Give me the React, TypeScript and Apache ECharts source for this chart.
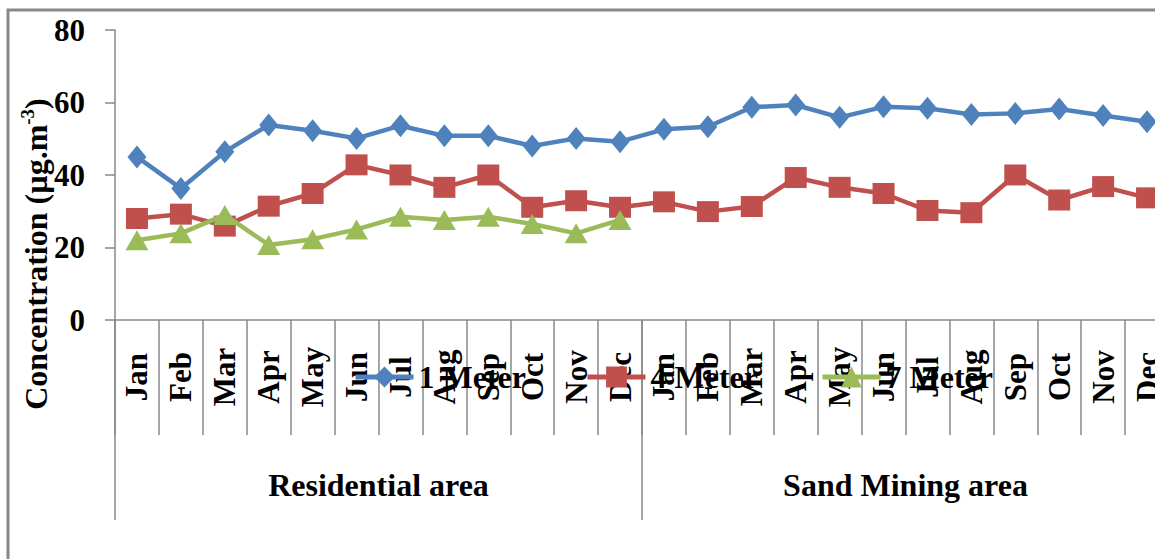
import React, { useEffect, useRef } from "react";
import * as echarts from "echarts";

const months = ["Jan", "Feb", "Mar", "Apr", "May", "Jun", "Jul", "Aug", "Sep", "Oct", "Nov", "Dec"];
const categories = [...months, ...months];
const groups = ["Residential area", "Sand Mining area"];
const yTicks = [0, 20, 40, 60, 80];

const meter1 = [45.0, 36.3, 46.4, 53.8, 52.2, 50.1, 53.6, 50.8, 50.8, 48.0, 50.1, 49.2,
  52.6, 53.3, 58.7, 59.3, 55.9, 58.8, 58.4, 56.7, 57.0, 58.2, 56.4, 54.7];
const meter4 = [28.0, 29.2, 25.9, 31.4, 34.9, 42.8, 40.0, 36.6, 40.0, 31.1, 32.9, 31.1,
  32.6, 29.9, 31.3, 39.3, 36.6, 34.9, 30.2, 29.6, 40.0, 33.1, 36.8, 33.7];
const meter7 = [22.0, 23.9, 29.0, 20.7, 22.3, 25.0, 28.5, 27.6, 28.5, 26.5, 23.9, 27.6,
  null, null, null, null, null, null, null, null, null, null, null, null];

const seriesNames = ["1 Meter", "4 Meter", "7 Meter"];
const FONT = '"Times New Roman", "Liberation Serif", serif';

export default function App() {
  const ref = useRef<HTMLDivElement>(null);
  useEffect(() => {
    if (!ref.current) return;
    const chart = echarts.init(ref.current, null, { renderer: "svg" });
    const legendBase = (name: string, left: number) => ({
      data: [name],
      left,
      top: 360,
      padding: 0,
      itemWidth: 58,
      itemHeight: 26,
      itemGap: 0,
      lineStyle: { width: 5 },
      textStyle: { fontFamily: FONT, fontWeight: "bold", fontSize: 32, color: "#000", lineHeight: 34, padding: [0, 0, 0, 0] },
    });
    chart.setOption({
      animation: false,
      backgroundColor: "#fff",
      grid: { left: 115, top: 30, width: 1054, height: 290, containLabel: false },
      legend: [
        legendBase(seriesNames[0], 353),
        legendBase(seriesNames[1], 585),
        legendBase(seriesNames[2], 820),
      ],
      xAxis: [
        {
          type: "category",
          data: categories,
          boundaryGap: true,
          axisLine: { show: true, lineStyle: { color: "#888", width: 1.5 } },
          axisTick: { show: true, interval: 0, length: 115, lineStyle: { color: "#888", width: 1.5 } },
          axisLabel: {
            interval: 0,
            rotate: 90,
            align: "center",
            verticalAlign: "middle",
            margin: 57,
            fontFamily: FONT,
            fontWeight: "bold",
            fontSize: 31,
            color: "#000",
          },
          splitLine: { show: false },
        },
        {
          type: "category",
          data: groups,
          position: "bottom",
          boundaryGap: true,
          axisLine: { show: false },
          axisTick: { show: true, interval: 0, length: 200, lineStyle: { color: "#888", width: 1.5 } },
          axisLabel: {
            interval: 0,
            margin: 165,
            verticalAlign: "middle",
            fontFamily: FONT,
            fontWeight: "bold",
            fontSize: 32,
            color: "#000",
          },
          splitLine: { show: false },
        },
      ],
      yAxis: {
        type: "value",
        min: yTicks[0],
        max: yTicks[yTicks.length - 1],
        interval: 20,
        axisLine: { show: true, lineStyle: { color: "#888", width: 1.5 } },
        axisTick: { show: true, length: 10, lineStyle: { color: "#888", width: 1.5 } },
        axisLabel: { margin: 30, fontFamily: FONT, fontWeight: "bold", fontSize: 31, color: "#000" },
        splitLine: { show: false },
      },
      graphic: [
        {
          type: "rect",
          shape: { x: 8, y: 10, width: 1400, height: 800 },
          style: { fill: "rgba(0,0,0,0)", stroke: "#888", lineWidth: 3 },
          silent: true,
          z: -1,
        },
        {
          type: "text",
          x: 36,
          y: 254,
          rotation: Math.PI / 2,
          style: {
            text: "{a|Concentration (µg.m}{s|-3}{a|)}",
            align: "center",
            verticalAlign: "middle",
            fill: "#000",
            rich: {
              a: { fontFamily: FONT, fontWeight: "bold", fontSize: 32, lineHeight: 36, fill: "#000" },
              s: { fontFamily: FONT, fontWeight: "bold", fontSize: 19, lineHeight: 36, verticalAlign: "top", fill: "#000", padding: [0, 0, 14, 0] },
            },
          },
        },
      ],
      series: [
        {
          name: seriesNames[0],
          type: "line",
          data: meter1,
          symbol: "diamond",
          symbolSize: [19, 23],
          lineStyle: { color: "#4F81BD", width: 4.5 },
          itemStyle: { color: "#4F81BD" },
          z: 3,
        },
        {
          name: seriesNames[1],
          type: "line",
          data: meter4,
          symbol: "rect",
          symbolSize: [22, 21],
          lineStyle: { color: "#C0504D", width: 4.5 },
          itemStyle: { color: "#C0504D" },
          z: 4,
        },
        {
          name: seriesNames[2],
          type: "line",
          data: meter7,
          symbol: "triangle",
          symbolSize: [23, 20],
          lineStyle: { color: "#9BBB59", width: 4.5 },
          itemStyle: { color: "#9BBB59" },
          connectNulls: false,
          z: 5,
        },
      ],
    });
    return () => chart.dispose();
  }, []);
  return (
    <div style={{ position: "absolute", left: 0, top: 0, width: 1155, height: 559, overflow: "hidden", background: "#fff" }}>
      <div ref={ref} style={{ width: 1175, height: 559 }} />
    </div>
  );
}
